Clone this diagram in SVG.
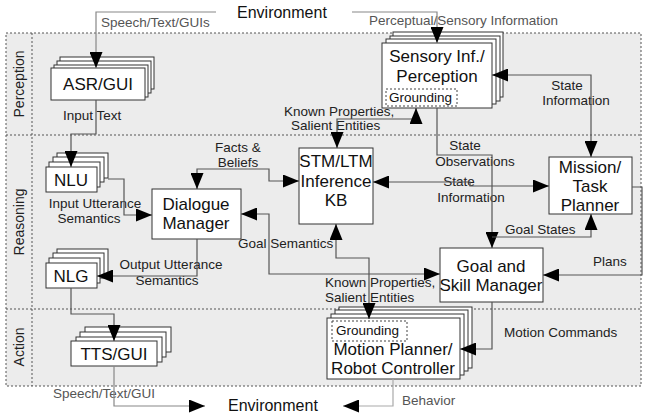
<svg xmlns="http://www.w3.org/2000/svg" width="645" height="414" viewBox="0 0 645 414">
<style>
.bg{fill:#ececec;stroke:none}
.dot{fill:none;stroke:#555;stroke-width:1;stroke-dasharray:2,2}
.box{fill:#fff;stroke:#333;stroke-width:1}
.gbox{fill:#fff;stroke:#444;stroke-width:1;stroke-dasharray:2,2}
.c{fill:none;stroke:#555;stroke-width:1.2}
.co{fill:none;stroke:#888;stroke-width:1.2}
.cl{fill:none;stroke:#aaa;stroke-width:1.2}
.ae{marker-end:url(#ah)}
.ab{marker-start:url(#ah);marker-end:url(#ah)}
.as{marker-start:url(#ah)}
text{font-family:"Liberation Sans",Arial,sans-serif}
.t{font-size:17px;fill:#111;text-anchor:middle}
.l{font-size:13.5px;fill:#222}
.m{text-anchor:middle}
.o{font-size:13.5px;fill:#555}
.env{font-size:16px;fill:#111}
.side{font-size:14px;fill:#222;text-anchor:middle}
.gr{font-size:13.5px;fill:#111}
</style>
<defs>
<marker id="ah" markerUnits="userSpaceOnUse" markerWidth="16" markerHeight="13" refX="16" refY="6.5" orient="auto-start-reverse" viewBox="0 0 16 13">
<path d="M0,0 L16,6.5 L0,13 z" fill="#000"/>
</marker>
</defs>

<g id="background">
<rect class="bg" x="6" y="33" width="635" height="353"/>
<rect class="dot" x="6" y="33" width="635" height="353"/>
<line class="dot" x1="32" y1="33" x2="32" y2="386"/>
<line class="dot" x1="6" y1="135" x2="641" y2="135"/>
<line class="dot" x1="6" y1="309" x2="641" y2="309"/>
<text class="side" transform="translate(24,84) rotate(-90)">Perception</text>
<text class="side" transform="translate(24,222) rotate(-90)">Reasoning</text>
<text class="side" transform="translate(24,347) rotate(-90)">Action</text>
</g>

<g id="labels">
<text class="env" x="237" y="18">Environment</text>
<text class="env" x="228" y="411">Environment</text>
<text class="o" x="101" y="27">Speech/Text/GUIs</text>
<text class="o" x="369" y="25">Perceptual/Sensory Information</text>
<text class="o" x="53" y="398">Speech/Text/GUI</text>
<text class="o" x="402" y="405">Behavior</text>
<text class="l" x="63" y="120">Input Text</text>
<text class="l m" x="95" y="208">Input Utterance</text>
<text class="l m" x="89" y="223">Semantics</text>
<text class="l m" x="238" y="152">Facts &amp;</text>
<text class="l m" x="238" y="167">Beliefs</text>
<text class="l" x="284" y="116">Known Properties,</text>
<text class="l" x="291" y="130">Salient Entities</text>
<text class="l m" x="567" y="90">State</text>
<text class="l m" x="576" y="105">Information</text>
<text class="l m" x="465" y="150">State</text>
<text class="l m" x="475" y="166">Observations</text>
<text class="l m" x="459" y="186">State</text>
<text class="l m" x="471" y="202">Information</text>
<text class="l" x="505" y="234">Goal States</text>
<text class="l" x="593" y="266">Plans</text>
<text class="l" x="238" y="248">Goal Semantics</text>
<text class="l" x="325" y="287">Known Properties,</text>
<text class="l" x="325" y="302">Salient Entities</text>
<text class="l m" x="171" y="269">Output Utterance</text>
<text class="l m" x="167" y="285">Semantics</text>
<text class="l" x="504" y="337">Motion Commands</text>
</g>

<g id="asr">
<rect class="box" x="60" y="57" width="94" height="32"/>
<rect class="box" x="57" y="61" width="94" height="32"/>
<rect class="box" x="54" y="65" width="94" height="32"/>
<rect class="box" x="51" y="68" width="94" height="32"/>
<text class="t" x="98" y="90">ASR/GUI</text>
</g>

<g id="nlu">
<rect class="box" x="57" y="153" width="51" height="25"/>
<rect class="box" x="53" y="157" width="51" height="25"/>
<rect class="box" x="49" y="162" width="51" height="25"/>
<rect class="box" x="46" y="167" width="51" height="25"/>
<text class="t" x="71" y="186">NLU</text>
</g>

<g id="nlg">
<rect class="box" x="57" y="249" width="51" height="25"/>
<rect class="box" x="53" y="253" width="51" height="25"/>
<rect class="box" x="49" y="258" width="51" height="25"/>
<rect class="box" x="46" y="263" width="51" height="25"/>
<text class="t" x="71" y="282">NLG</text>
</g>

<g id="tts">
<rect class="box" x="85" y="327" width="86" height="25"/>
<rect class="box" x="80" y="332" width="86" height="25"/>
<rect class="box" x="76" y="337" width="86" height="25"/>
<rect class="box" x="71" y="341" width="86" height="25"/>
<text class="t" x="114" y="360">TTS/GUI</text>
</g>

<g id="dialogue-manager">
<rect class="box" x="152" y="189" width="89" height="50"/>
<text class="t" x="196" y="210">Dialogue</text>
<text class="t" x="196" y="229">Manager</text>
</g>

<g id="stm-ltm">
<rect class="box" x="299" y="148" width="74" height="76"/>
<text class="t" x="336" y="167">STM/LTM</text>
<text class="t" x="336" y="187">Inference</text>
<text class="t" x="336" y="206">KB</text>
</g>

<g id="sensory">
<rect class="box" x="393" y="32" width="110" height="65"/>
<rect class="box" x="390" y="36" width="110" height="65"/>
<rect class="box" x="386" y="39" width="110" height="65"/>
<rect class="box" x="382" y="43" width="110" height="65"/>
<text class="t" x="437" y="62">Sensory Inf./</text>
<text class="t" x="437" y="82">Perception</text>
<rect class="gbox" x="386" y="89" width="71" height="17"/>
<text class="gr" x="389" y="102">Grounding</text>
</g>

<g id="mission-planner">
<rect class="box" x="549" y="157" width="83" height="57"/>
<text class="t" x="590" y="173">Mission/</text>
<text class="t" x="590" y="192">Task</text>
<text class="t" x="590" y="211">Planner</text>
</g>

<g id="goal-skill-manager">
<rect class="box" x="440" y="248" width="103" height="54"/>
<text class="t" x="491" y="272">Goal and</text>
<text class="t" x="491" y="291">Skill Manager</text>
</g>

<g id="motion-planner">
<rect class="box" x="339" y="307" width="133" height="61"/>
<rect class="box" x="335" y="310" width="133" height="61"/>
<rect class="box" x="331" y="314" width="133" height="61"/>
<rect class="box" x="327" y="318" width="133" height="61"/>
<rect class="gbox" x="332" y="321" width="75" height="20"/>
<text class="gr" x="336" y="335">Grounding</text>
<text class="t" x="393" y="355">Motion Planner/</text>
<text class="t" x="393" y="374">Robot Controller</text>
</g>

<g id="connectors">
<path class="co ae" d="M216,12 H96 V68"/>
<path class="co ae" d="M352,12 H437 V43"/>
<path class="c ae" d="M96,100 V134 H71 V167"/>
<path class="c ae" d="M108,179 H124 V215 H152"/>
<path class="c ab" d="M197,189 V169 H269 V181 H299"/>
<path class="c ab" d="M337,148 V119 H416 V108"/>
<path class="c ab" d="M492,75 H591 V157"/>
<path class="c ae" d="M437,108 V155 H492 V248"/>
<path class="c ab" d="M373,182 H470 V186 H549"/>
<path class="c as" d="M591,214 V237 H492"/>
<path class="c ae" d="M632,187 H642 V275 H543"/>
<path class="c ab" d="M241,214 H269 V274 H440"/>
<path class="c ab" d="M336,224 V258 H369 V319"/>
<path class="c ae" d="M197,239 V276 H97"/>
<path class="c ae" d="M71,288 V314 H114 V341"/>
<path class="co ae" d="M114,366 V406 H205"/>
<path class="c ae" d="M492,302 V349 H460"/>
<path class="cl ae" d="M393,379 V406 H343"/>
</g>
</svg>
